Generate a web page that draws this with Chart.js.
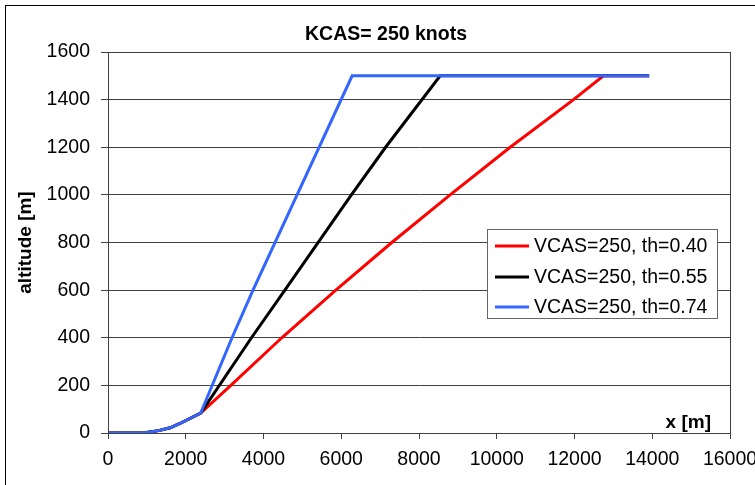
<!DOCTYPE html>
<html>
<head>
<meta charset="utf-8">
<title>KCAS= 250 knots</title>
<script src="https://cdn.jsdelivr.net/npm/chart.js@4"></script>
<style>
  html, body { margin: 0; padding: 0; background: #fff; overflow: hidden; }
  #wrap { position: relative; width: 755px; height: 485px; overflow: hidden; }
  #frame { position: absolute; left: 5px; top: 5px; width: 800px; height: 600px; border: 1px solid #000; box-sizing: border-box; pointer-events: none; }
  canvas { position: absolute; left: 0; top: 0; }
</style>
</head>
<body>
<div id="wrap">
  <div id="frame"></div>
  <canvas id="climbChart" width="755" height="485"></canvas>
</div>
<script>
// ground run + initial climb, shared by all three runs
const groundX = [0, 900, 1300, 1600, 1850, 2385];
const groundAlt = [0, 0, 10, 22, 40, 84];

// th=0.40
const redX = [3160, 4470, 5860, 7300, 8800, 10345, 11975, 12745, 13920];
const redAlt = [200, 400, 600, 800, 1000, 1200, 1400, 1500, 1500];
// th=0.55
const blackX = [3690, 4550, 6260, 7140, 8545, 13920];
const blackAlt = [400, 600, 1000, 1200, 1500, 1500];
// th=0.74
const blueX = [3190, 3730, 6280, 13920];
const blueAlt = [400, 600, 1500, 1500];

const seriesNames = ["VCAS=250, th=0.40", "VCAS=250, th=0.55", "VCAS=250, th=0.74"];
const seriesColors = ["#ff0000", "#000000", "#3366ff"];

const xTicks = [0, 2000, 4000, 6000, 8000, 10000, 12000, 14000, 16000];
const altTicks = [0, 200, 400, 600, 800, 1000, 1200, 1400, 1600];

const FONT = '"Liberation Sans", Arial, sans-serif';
const GRID = "#404040";

function toPoints(xs, ys) {
  const pts = groundX.map((x, i) => ({ x: x, y: groundAlt[i] }));
  xs.forEach((x, i) => pts.push({ x: x, y: ys[i] }));
  return pts;
}

// title, x label, legend box and plot frame
const decorations = {
  id: "decorations",
  afterDraw(chart) {
    const ctx = chart.ctx;
    const area = chart.chartArea;
    ctx.save();

    ctx.strokeStyle = GRID;
    ctx.lineWidth = 1;
    ctx.strokeRect(Math.round(area.left) + 0.5, Math.round(area.top) + 0.5,
      Math.round(area.right - area.left), Math.round(area.bottom - area.top));

    ctx.fillStyle = "#000";
    ctx.font = "bold 19.5px " + FONT;
    ctx.textAlign = "center";
    ctx.textBaseline = "middle";
    ctx.fillText("KCAS= 250 knots", 386, 35);

    ctx.font = "bold 19px " + FONT;
    ctx.textAlign = "right";
    ctx.fillText("x [m]", 711, 423);

    // legend
    ctx.fillStyle = "#fff";
    ctx.fillRect(487, 229, 231, 90);
    ctx.strokeStyle = "#666";
    ctx.strokeRect(487.5, 229.5, 230, 89);
    ctx.font = "19.5px " + FONT;
    ctx.textAlign = "left";
    const rows = [246, 277, 307];
    seriesNames.forEach((name, i) => {
      ctx.strokeStyle = seriesColors[i];
      ctx.lineWidth = 3;
      ctx.beginPath();
      ctx.moveTo(495, rows[i]);
      ctx.lineTo(529, rows[i]);
      ctx.stroke();
      ctx.fillStyle = "#000";
      ctx.fillText(name, 534, rows[i] + 1);
    });
    ctx.restore();
  }
};

const plainNumber = (v) => String(v);

const ctx = document.getElementById("climbChart").getContext("2d");
new Chart(ctx, {
  type: "scatter",
  data: {
    datasets: [
      { label: seriesNames[0], data: toPoints(redX, redAlt), borderColor: seriesColors[0], order: 2 },
      { label: seriesNames[1], data: toPoints(blackX, blackAlt), borderColor: seriesColors[1], order: 1 },
      { label: seriesNames[2], data: toPoints(blueX, blueAlt), borderColor: seriesColors[2], order: 0 }
    ]
  },
  options: {
    responsive: false,
    animation: false,
    showLine: true,
    layout: { autoPadding: false, padding: { left: 10, top: 52, right: 25, bottom: 0 } },
    elements: {
      line: { borderWidth: 3, tension: 0, fill: false },
      point: { radius: 0, hoverRadius: 0 }
    },
    plugins: {
      legend: { display: false },
      title: { display: false },
      tooltip: { enabled: false }
    },
    scales: {
      x: {
        type: "linear",
        min: 0,
        max: 16000,
        afterBuildTicks: (scale) => { scale.ticks = xTicks.map(v => ({ value: v })); },
        afterFit: (scale) => {
          scale.height = 52;
          scale.paddingLeft = 0;
          scale.paddingRight = 0;
        },
        grid: { drawOnChartArea: false, drawTicks: true, tickLength: 6, color: GRID },
        border: { display: true, color: GRID },
        ticks: { color: "#000", font: { family: FONT, size: 19.5 }, padding: 9, maxRotation: 0, autoSkip: false, callback: plainNumber }
      },
      y: {
        type: "linear",
        min: 0,
        max: 1600,
        afterBuildTicks: (scale) => { scale.ticks = altTicks.map(v => ({ value: v })); },
        afterFit: (scale) => {
          scale.width = 98;
          scale.paddingTop = 0;
          scale.paddingBottom = 0;
        },
        grid: { drawOnChartArea: true, drawTicks: true, tickLength: 7, color: GRID },
        border: { display: true, color: GRID },
        title: { display: true, text: "altitude [m]", color: "#000", font: { family: FONT, size: 19, weight: "bold" }, padding: { top: 4, bottom: 0 } },
        ticks: { color: "#000", font: { family: FONT, size: 19.5 }, padding: 11, callback: plainNumber }
      }
    }
  },
  plugins: [decorations]
});
</script>
</body>
</html>
